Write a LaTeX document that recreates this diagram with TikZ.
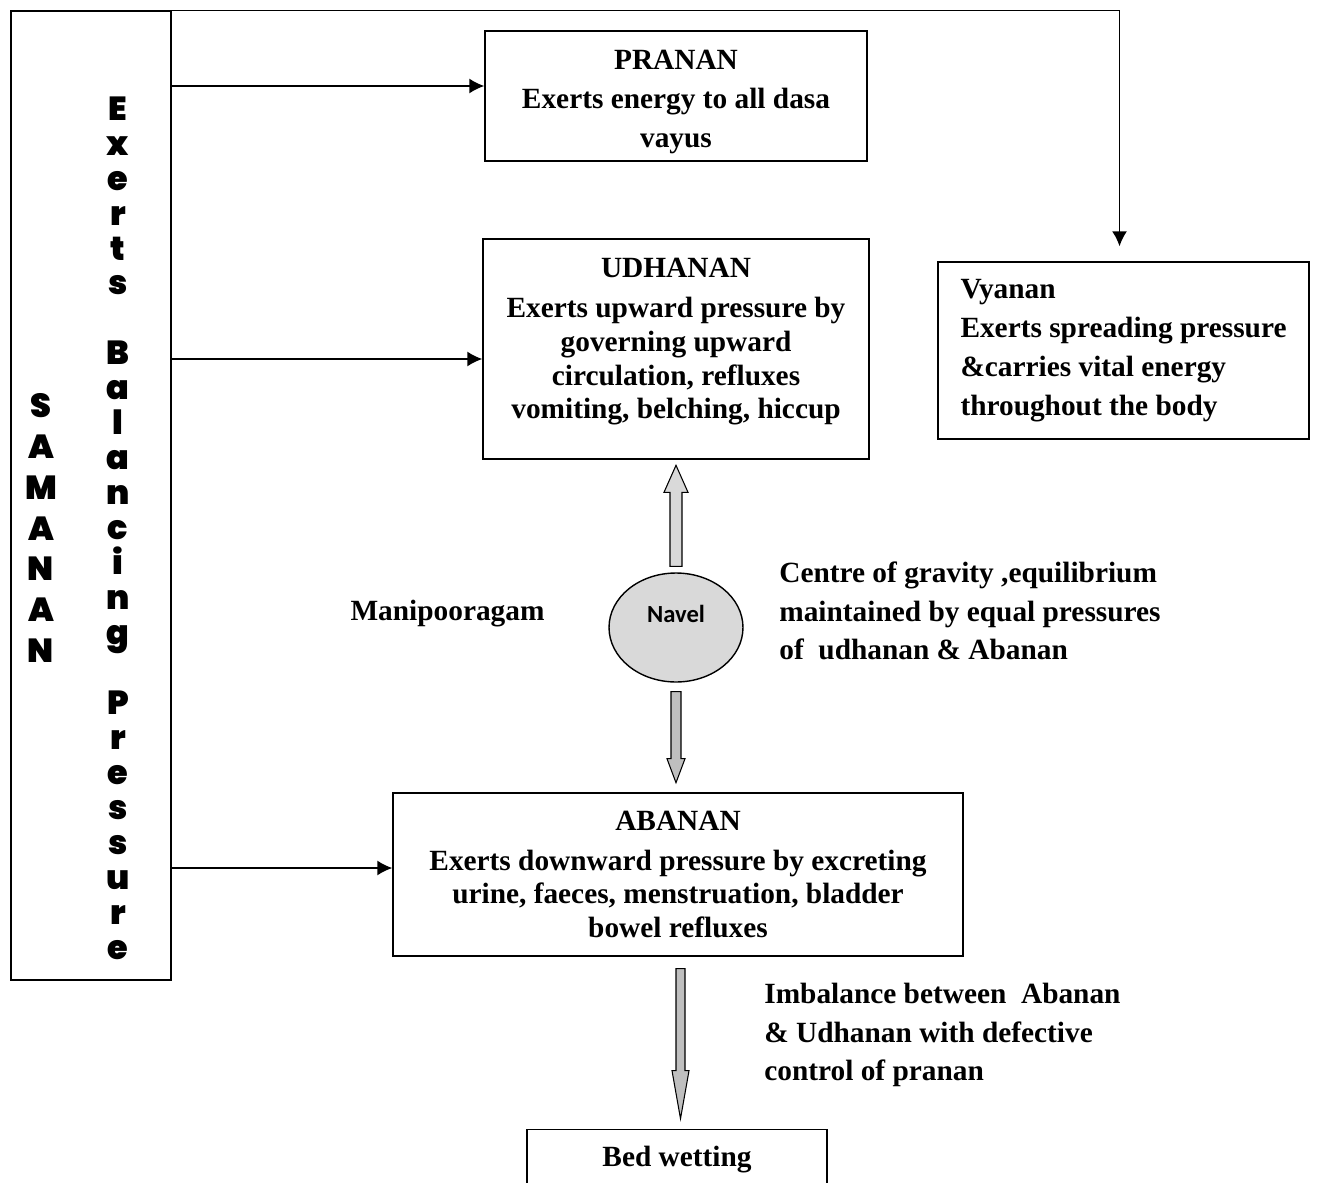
\documentclass[tikz,border=0pt]{standalone}
\usepackage{fontspec}
\setmainfont{Liberation Serif}
\newfontfamily\heavyfont{Poppins Black}
\newfontfamily\navelfont{Carlito}
\usetikzlibrary{arrows.meta,calc,shapes.geometric}

\tikzset{
  box/.style={draw, line width=0.8pt, align=center, inner sep=0pt,
    font=\bfseries\fontsize{16.7}{22.2}\selectfont},
  tightbox/.style={box, font=\bfseries\fontsize{16.7}{19.3}\selectfont},
  plain/.style={inner sep=0pt, font=\bfseries\fontsize{16.7}{22}\selectfont},
  pointer/.style={line width=1pt, -{Latex[length=0.3cm,width=0.3cm]}},
  blockarrow/.style={draw, line width=0.6pt, line join=miter},
  tall/.style={align=center, inner sep=0pt,
    font=\heavyfont\fontsize{19}{19.9}\selectfont}
}

\begin{document}
\begin{tikzpicture}[x=0.02cm, y=-0.02cm]
\useasboundingbox (0,0) rectangle (1317,1182);

% samanan column
\node[draw, line width=0.8pt, minimum width=3.2cm, minimum height=19.38cm, inner sep=0pt] (panel) at (91,495.5) {};
\node[tall, font=\heavyfont\fontsize{19}{23.2}\selectfont] (samanan) at (41,528) {S\\A\\M\\A\\N\\A\\N};
\node[tall] (balance) at (118,528) {E\\x\\e\\r\\t\\s\\[19.9pt]B\\a\\l\\a\\n\\c\\i\\n\\g\\[19.9pt]P\\r\\e\\s\\s\\u\\r\\e};

% vayu boxes
\node[box, minimum width=7.64cm, minimum height=2.6cm] (pranan) at (676,96) {\rule{0pt}{18pt}PRANAN\\Exerts energy to all dasa\\vayus};
\node[tightbox, minimum width=7.72cm, minimum height=4.4cm] (udhanan) at (676,349)
  {UDHANAN\\[3.4pt]Exerts upward pressure by\\governing upward\\circulation, refluxes\\vomiting, belching, hiccup\rule[-0.42cm]{0pt}{0pt}};
\node[box, align=left, minimum width=7.42cm, minimum height=3.54cm] (vyanan) at (1123.5,350.5)
  {Vyanan\\Exerts spreading pressure\\\&carries vital energy\\throughout the body};
\node[tightbox, minimum width=11.4cm, minimum height=3.26cm] (abanan) at (678,874.5)
  {ABANAN\\[3.4pt]Exerts downward pressure by excreting\\urine, faeces, menstruation, bladder\\bowel refluxes};
\node[box, anchor=north, minimum width=6cm, minimum height=1.2cm] (bed) at (677,1129) {Bed wetting};

% navel
\node[ellipse, draw, line width=0.8pt, fill=black!15, minimum width=2.68cm, minimum height=2.18cm, inner sep=0pt,
  label={[yshift=0.27cm, font=\navelfont\bfseries\fontsize{14}{16}\selectfont]center:Navel}] (navel) at (676,627.5) {};
\node[plain] (mani) at (447.5,614) {Manipooragam};
\node[plain, align=left, anchor=west] (centre) at (779,611)
  {Centre of gravity ,equilibrium\\maintained by equal pressures\\of\ \ udhanan \& Abanan};
\node[plain, align=left, anchor=west] (imbalance) at (764,1035)
  {Imbalance between\ \ Abanan\\\& Udhanan with defective\\control of pranan};

% connectors
\draw[pointer] (panel.east |- 0,86) -- (pranan.west |- 0,86);
\draw[pointer] (panel.east |- 0,359) -- (udhanan.west |- 0,359);
\draw[pointer] (panel.east |- 0,868) -- (abanan.west |- 0,868);
\draw[pointer, shorten >=0.3cm] (panel.north east) -| ([xshift=-0.08cm]vyanan.north);

% block arrows
\draw[blockarrow, fill=black!15] ($(navel.north)+(-6,-6)$) -- ++(0,-74) -- ++(-6,0) -- ++(12,-27)
  -- ++(12,27) -- ++(-6,0) -- ++(0,74) -- cycle;
\draw[blockarrow, fill=black!25] ($(navel.south)+(-5,9)$) -- ++(0,67) -- ++(-4,0) -- ++(9,24)
  -- ++(9,-24) -- ++(-4,0) -- ++(0,-67) -- cycle;
\draw[blockarrow, fill=black!25] ($(abanan.south)+(-2,12)$) -- ++(0,102) -- ++(-4,0) -- ++(8.5,48)
  -- ++(8.5,-48) -- ++(-4,0) -- ++(0,-102) -- cycle;
\end{tikzpicture}
\end{document}
